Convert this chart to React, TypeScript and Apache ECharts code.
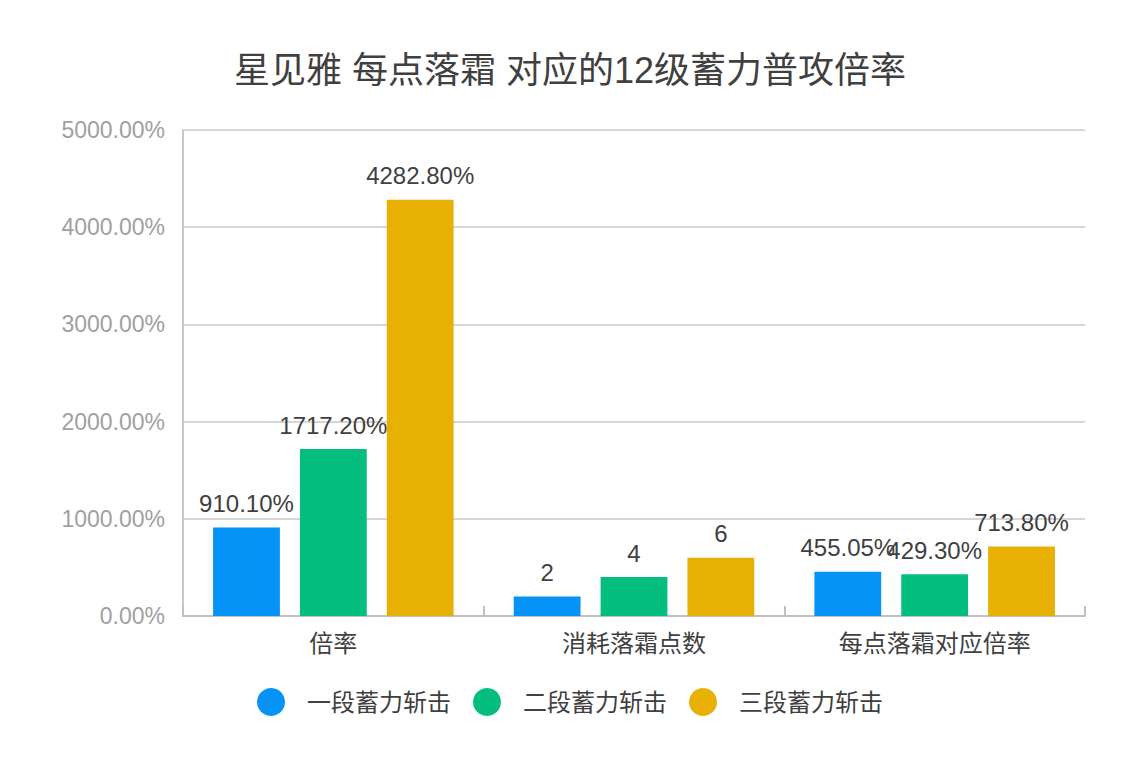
import React, { useEffect, useRef } from "react";
import * as echarts from "echarts";

const titleText = "星见雅 每点落霜 对应的12级蓄力普攻倍率";
const categories = ["倍率", "消耗落霜点数", "每点落霜对应倍率"];
const seriesNames = ["一段蓄力斩击", "二段蓄力斩击", "三段蓄力斩击"];
// values per series across categories (ratio units: 1 = 100%)
const stage1 = [9.101, 2, 4.5505];
const stage2 = [17.172, 4, 4.293];
const stage3 = [42.828, 6, 7.138];
const colors = ["#0593F7", "#04BE80", "#E8B004"];
const yMin = 0;
const yMax = 50;
const yInterval = 10;

const FONT = '"Liberation Sans", "Noto Sans CJK SC", sans-serif';

export default function App() {
  const ref = useRef<HTMLDivElement>(null);
  useEffect(() => {
    if (!ref.current) return;
    const chart = echarts.init(ref.current, null, { renderer: "svg" });
    const seriesData = [stage1, stage2, stage3];
    chart.setOption({
      animation: false,
      textStyle: { fontFamily: FONT },
      title: {
        text: titleText,
        left: "center",
        top: 47,
        textStyle: { fontSize: 36, fontWeight: "normal", color: "#404040", fontFamily: FONT },
      },
      legend: {
        top: 683,
        left: "center",
        itemWidth: 28,
        itemHeight: 28,
        itemGap: 22,
        icon: "circle",
        textStyle: { fontSize: 24, color: "#404040", padding: [0, 0, 0, 17], fontFamily: FONT },
        data: seriesNames,
      },
      grid: { left: 183, right: 55, top: 130, bottom: 168, containLabel: false },
      xAxis: {
        type: "category",
        data: categories,
        axisLine: { show: true, lineStyle: { color: "#c0c0c0", width: 2 } },
        axisTick: { show: true, inside: true, length: 10, lineStyle: { color: "#c0c0c0", width: 2 } },
        axisLabel: { fontSize: 24, color: "#404040", margin: 15, fontFamily: FONT },
      },
      yAxis: {
        type: "value",
        min: yMin,
        max: yMax,
        interval: yInterval,
        axisLine: { show: true, lineStyle: { color: "#c8c8c8", width: 2 } },
        axisTick: { show: false },
        splitLine: { show: true, lineStyle: { color: "#c8c8c8", width: 1.5 } },
        axisLabel: {
          fontSize: 23,
          color: "#a0a0a0",
          margin: 18,
          fontFamily: FONT,
          formatter: (v: number) => (v * 100).toFixed(2) + "%",
        },
      },
      series: seriesNames.map((name, i) => ({
        name,
        type: "bar",
        barGap: "30%",
        barCategoryGap: "20%",
        itemStyle: { color: colors[i] },
        label: {
          show: true,
          position: "top",
          distance: 12,
          fontSize: 24,
          color: "#404040",
          fontFamily: FONT,
          formatter: (p: any) =>
            p.dataIndex === 1 ? String(p.value) : (p.value * 100).toFixed(2) + "%",
        },
        data: seriesData[i],
      })),
    });
    return () => chart.dispose();
  }, []);
  return <div ref={ref} style={{ width: 1140, height: 784, margin: -8 }} />;
}
